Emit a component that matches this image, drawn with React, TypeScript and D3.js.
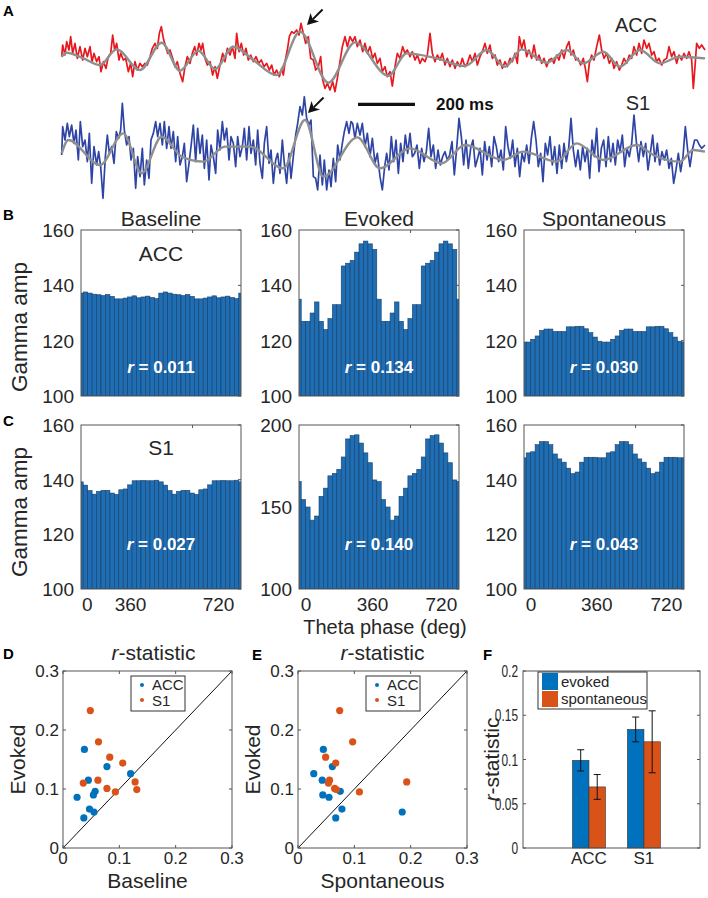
import * as React from "react"
import * as d3 from "d3"

type Pt = [number, number]

// ---------- A: example traces, [sample, µV]; 171 samples = 200 ms ----------
const accRaw: Pt[] = [
  [185, 5], [188, 40], [195, 10], [200, 50], [207, 25], [212, 65], [218, 15], [225, 45], [232, 0], [240, 35],
  [248, -5], [255, 30], [262, 5], [270, 35], [276, -10], [282, 15], [290, -10], [297, 5], [303, -40], [310, -10],
  [318, -30], [325, 5], [332, 15], [338, 70], [344, 25], [350, 45], [357, -5], [362, 15], [370, -5], [377, 0],
  [385, -40], [392, -15], [398, -55], [405, -10], [412, -35], [420, -15], [427, -25], [435, -15], [442, -20], [450, 5],
  [457, 30], [465, 45], [472, 30], [478, 75], [484, 95], [490, 60], [497, 35], [503, 15], [510, 25], [518, 0],
  [525, -25], [532, -10], [540, -45], [548, -70], [555, -25], [562, 5], [570, -15], [577, 15], [584, 35], [590, 10],
  [597, 45], [603, 25], [608, 45], [615, 0], [622, -20], [630, -10], [638, -50], [645, -25], [652, -60], [660, -20],
  [668, 15], [675, -10], [682, 30], [690, 10], [697, 35], [705, 0], [710, 75], [717, 20], [724, 45], [731, 10],
  [738, 30], [745, -5], [752, 10], [760, -10], [768, 5], [776, -15], [784, -5], [792, -25], [800, -15], [808, -35],
  [815, -20], [822, -50], [830, -35], [838, -55], [845, -30], [850, -50], [856, -5], [862, 25], [868, 65], [875, 80],
  [882, 75], [890, 85], [897, 70], [903, 105], [910, 75], [917, 45], [925, 65], [932, 0], [940, -5], [947, -35],
  [955, -25], [962, 5], [968, -65], [975, -90], [982, -75], [990, -95], [998, -70], [1005, -100], [1012, -60], [1020, -10],
  [1027, 35], [1035, 65], [1042, 35], [1050, 65], [1058, 50], [1065, 65], [1072, 35], [1080, 55], [1088, 20], [1095, 45],
  [1102, 15], [1110, 35], [1118, 0], [1125, 15], [1132, -15], [1140, 0], [1147, -40], [1155, -25], [1162, -55], [1170, -40],
  [1177, -83], [1185, -25], [1192, 15], [1200, 0], [1208, 35], [1215, 15], [1222, 25], [1230, 5], [1237, 20], [1245, -5],
  [1252, 10], [1260, -15], [1267, 0], [1275, -10], [1282, 10], [1290, 75], [1297, 15], [1305, -10], [1312, 10], [1320, -5],
  [1327, 15], [1335, -20], [1342, 0], [1350, -25], [1357, -5], [1365, -30], [1372, -10], [1380, -25], [1387, 0], [1395, -25],
  [1402, -15], [1410, 10], [1417, -10], [1425, 15], [1432, -20], [1440, 5], [1447, 20], [1455, 45], [1462, 15], [1470, 40],
  [1477, 0], [1485, 10], [1492, -20], [1500, -5], [1507, -30], [1515, -10], [1522, -25], [1530, 0], [1537, -10], [1545, 15],
  [1552, -15], [1558, 65], [1565, 30], [1572, 55], [1580, 5], [1587, 25], [1595, 0], [1602, 40], [1610, -5], [1617, 10],
  [1625, -15], [1632, 0], [1640, -25], [1647, -5], [1655, 0], [1662, -15], [1670, 10], [1677, -5], [1685, 25], [1692, 0],
  [1700, 35], [1707, 50], [1713, 10], [1720, 25], [1727, -5], [1734, 0], [1742, -20], [1750, 0], [1756, -30], [1762, -70],
  [1768, -15], [1775, 10], [1782, -5], [1790, 35], [1798, 70], [1805, 25], [1812, 0], [1820, 15], [1828, -15], [1835, 0],
  [1842, -30], [1850, -10], [1858, -35], [1865, -20], [1872, 0], [1880, -15], [1888, 10], [1895, 0], [1902, 35], [1910, 10],
  [1917, 45], [1925, 15], [1932, 55], [1940, 30], [1947, 45], [1955, 10], [1962, 20], [1970, -10], [1977, 0], [1985, -20],
  [1992, -5], [2000, 0], [2007, 35], [2015, 5], [2022, 20], [2030, -15], [2037, 10], [2045, -5], [2052, 15], [2060, 0],
  [2067, 20], [2075, -5], [2080, -90], [2085, -25], [2090, 45], [2098, 30], [2105, 40], [2115, 25],
]

const accTheta: Pt[] = [
  [185, 5], [200, 17], [250, 0], [300, -20], [350, 27], [420, -35], [485, 47], [540, -37], [595, 23], [645, -32],
  [700, 35], [760, -5], [830, -50], [900, 80], [985, -73], [1065, 48], [1165, -52], [1220, 15], [1310, 0], [1395, -23],
  [1460, 25], [1515, -25], [1565, 27], [1640, -13], [1700, 25], [1750, -15], [1810, 20], [1860, -25], [1920, 25], [1980, -15],
  [2040, 5], [2115, 0],
]

const s1Raw: Pt[] = [
  [185, -15], [188, 70], [195, 30], [202, 80], [208, 40], [215, 75], [222, 20], [228, 60], [235, -30], [241, 85],
  [248, 10], [255, 30], [262, -35], [268, 50], [275, -100], [282, 10], [290, -45], [296, -5], [302, -50], [309, -145],
  [316, -20], [322, 45], [328, -10], [335, 10], [342, -40], [349, 55], [356, 35], [362, 60], [367, 140], [373, 60],
  [380, 15], [387, 40], [393, -30], [400, 5], [407, -115], [413, -20], [420, -80], [427, 5], [433, -105], [440, -30],
  [447, -85], [453, 30], [460, 50], [467, 85], [473, 40], [480, 80], [487, 15], [493, 85], [500, 5], [507, 70],
  [513, 5], [520, 55], [527, -35], [533, 40], [540, -45], [547, -20], [553, 20], [560, -95], [567, -40], [573, 10],
  [580, 75], [587, -35], [593, 65], [600, -10], [607, 45], [613, -55], [620, 30], [627, -90], [633, 15], [640, -20],
  [647, -70], [653, 60], [660, 0], [667, 85], [673, 30], [680, 65], [687, -30], [693, 40], [700, 20], [707, -50],
  [713, 40], [720, -20], [727, 10], [733, 65], [740, -30], [747, 70], [753, -10], [760, 30], [767, -45], [773, 60],
  [780, -40], [787, -85], [793, 20], [800, 70], [807, -40], [813, 0], [820, -100], [827, -30], [833, -10], [840, -70],
  [847, 30], [853, -40], [860, -100], [867, -10], [873, -85], [880, -20], [887, 45], [893, 80], [900, 130], [907, 105],
  [913, 160], [920, 95], [927, 75], [933, 90], [940, -80], [947, -85], [953, -120], [960, -15], [967, -105], [973, -30],
  [980, -120], [987, -60], [993, -110], [1000, -25], [1007, -95], [1013, 15], [1020, -30], [1027, 20], [1033, 55], [1040, 85],
  [1047, 50], [1053, 85], [1058, 80], [1065, 35], [1072, 80], [1080, 45], [1087, 80], [1095, 10], [1102, 50], [1110, -20],
  [1117, 35], [1125, -40], [1132, -10], [1140, -80], [1147, -120], [1154, -50], [1160, -10], [1167, -60], [1174, 40], [1181, -35],
  [1188, 30], [1195, -70], [1202, 20], [1209, -35], [1216, 45], [1223, -10], [1230, 50], [1237, -20], [1244, -10], [1251, 15],
  [1258, -55], [1265, 5], [1272, -35], [1279, -5], [1286, 65], [1293, -20], [1300, 15], [1307, -55], [1314, 0], [1321, -45],
  [1328, -20], [1335, -5], [1342, -30], [1349, -15], [1356, 25], [1363, -75], [1370, 5], [1377, 95], [1384, 40], [1391, -45],
  [1398, 30], [1405, -55], [1412, 5], [1419, 30], [1426, -50], [1433, -25], [1440, 5], [1447, -75], [1454, 25], [1461, -30],
  [1468, 10], [1475, -50], [1482, 40], [1489, 10], [1496, -35], [1503, 0], [1510, -60], [1517, 70], [1524, 10], [1531, -25],
  [1538, 30], [1545, -50], [1552, 5], [1559, -80], [1566, -10], [1573, -35], [1580, 15], [1587, -40], [1594, 35], [1601, 85],
  [1608, 30], [1615, -50], [1622, -10], [1629, -95], [1636, 20], [1643, -15], [1650, 40], [1657, -45], [1664, 10], [1671, -70],
  [1678, 15], [1685, -55], [1692, 20], [1699, -35], [1706, 5], [1713, 95], [1720, 0], [1727, -50], [1734, 0], [1741, -60],
  [1748, 10], [1755, -35], [1762, 5], [1769, -85], [1776, 30], [1783, -20], [1790, 65], [1797, -65], [1804, 5], [1811, 30],
  [1818, -50], [1825, 40], [1832, -35], [1839, 20], [1846, -45], [1853, 30], [1860, -5], [1867, 45], [1874, -50], [1881, 5],
  [1888, -20], [1895, 20], [1902, 105], [1909, 25], [1916, -35], [1923, 25], [1930, -20], [1937, 20], [1944, -60], [1951, -10],
  [1958, 45], [1965, -35], [1972, 20], [1979, -45], [1986, -5], [1993, -30], [2000, 0], [2007, -55], [2014, -25], [2021, -100],
  [2028, -60], [2035, -10], [2042, -65], [2049, -20], [2056, 70], [2063, 0], [2070, -50], [2077, 0], [2084, 30], [2091, 30],
  [2098, 15], [2105, 5], [2115, 15],
]

const s1Theta: Pt[] = [
  [185, -10], [205, 30], [300, -45], [370, 50], [425, -70], [485, 40], [545, -20], [610, -35], [675, 10], [750, 10],
  [850, -55], [915, 90], [970, -80], [1072, 38], [1140, -55], [1230, 5], [1325, -40], [1395, 15], [1510, -30], [1570, -5],
  [1670, -35], [1730, 20], [1810, -30], [1910, 15], [1960, -15], [2040, -35], [2080, 0], [2115, -5],
]

const arrowTips: Pt[] = [[921, 100], [924, 111]]
const scaleBarStart = 1074
const scaleBarMs = 200
const samplesPerMs = 171 / 200

// ---------- B, C: gamma amplitude per 20-deg theta bin (one cycle, shown twice) ----------
const phaseCenters = d3.range(0, 740, 20)
const phaseTicks = [0, 360, 720]
const accBaseline = [137.2, 137.6, 137.2, 136.8, 136.6, 136.3, 136.7, 136.0, 135.1, 135.1, 135.4, 135.8, 136.2, 135.5, 135.8, 136.1, 135.6, 135.2]
const accEvoked = [135, 127, 127, 130, 134, 127, 124, 128, 133, 133, 147, 148, 149, 152, 155, 156, 155, 153]
const accSpont = [119.5, 119.5, 120.5, 121.7, 123.7, 124.2, 124.2, 123.3, 123.3, 123.3, 125.0, 125.0, 125.2, 125.2, 124.3, 122.9, 121.3, 119.8]
const s1Baseline = [139.2, 138.0, 136.0, 134.7, 135.7, 136.1, 136.1, 135.1, 134.6, 136.3, 136.6, 138.1, 139.6, 139.6, 139.7, 139.6, 139.6, 139.8]
const s1Evoked = [165.5, 154.5, 150.0, 142.0, 144.5, 156.5, 161.5, 169.0, 170.5, 173.0, 180.5, 191.5, 193.5, 194.0, 189.0, 183.0, 177.0, 166.5]
const s1Spont = [148.0, 149.8, 150.2, 152.8, 153.9, 153.9, 152.8, 149.4, 147.6, 146.4, 144.2, 142.2, 142.8, 146.4, 148.2, 148.2, 148.2, 148.0]
const rValues = ["0.011", "0.134", "0.030", "0.027", "0.140", "0.043"]
const conditionTitles = ["Baseline", "Evoked", "Spontaneous"]

// ---------- D, E: per-session r-statistic ----------
const accEvokedR = [0.167, 0.138, 0.126, 0.115, 0.096, 0.090, 0.086, 0.066, 0.061, 0.051]
const accBaselineR = [0.038, 0.078, 0.120, 0.045, 0.057, 0.054, 0.025, 0.047, 0.055, 0.037]
const accSpontR = [0.045, 0.061, 0.028, 0.043, 0.075, 0.044, 0.055, 0.078, 0.185, 0.067]
const s1EvokedR = [0.233, 0.180, 0.154, 0.144, 0.115, 0.112, 0.110, 0.101, 0.099, 0.095]
const s1BaselineR = [0.0485, 0.063, 0.083, 0.106, 0.062, 0.128, 0.036, 0.078, 0.131, 0.093]
const s1SpontR = [0.074, 0.097, 0.049, 0.067, 0.056, 0.193, 0.054, 0.065, 0.068, 0.109]
const rTicks = [0, 0.1, 0.2, 0.3]

// ---------- F: mean r-statistic ----------
const regions = ["ACC", "S1"]
const evokedMean = [0.099, 0.134]
const evokedErr = [0.012, 0.014]
const spontMean = [0.069, 0.120]
const spontErr = [0.014, 0.035]
const fTicks = [0, 0.05, 0.1, 0.15, 0.2]

const FONT = "'Liberation Sans', Arial, Helvetica, sans-serif"
const TEXT = "#262626"
const AXIS = "#555"
const BLUE = "#0072BD"
const ORANGE = "#D95319"
const HIST_FILL = "#1f6db3"
const HIST_EDGE = "#17406a"

const tScale = d3.scaleLinear().domain([0, 2124]).range([0, 708])

function TracePanel() {
  const accY = d3.scaleLinear().domain([-100, 100]).range([91.7, 25])
  const s1Y = d3.scaleLinear().domain([-100, 100]).range([183.3, 116.7])
  const mk = (ys: d3.ScaleLinear<number, number>, smooth: boolean) =>
    d3.line<Pt>().x(d => tScale(d[0])).y(d => ys(d[1])).curve(smooth ? d3.curveMonotoneX : d3.curveLinear)
  const arrow = (tip: Pt, ys: d3.ScaleLinear<number, number>) => {
    const tx = tScale(tip[0]), ty = ys(tip[1])
    const ux = Math.SQRT1_2, uy = -Math.SQRT1_2
    const px = -uy, py = ux
    const hl = 11, hw = 6
    const bx = tx + ux * hl, by = ty + uy * hl
    const nx = tx + ux * (hl - 3), ny = ty + uy * (hl - 3)
    return (
      <g>
        <line x1={nx} y1={ny} x2={tx + ux * 22} y2={ty + uy * 22} stroke="#111" strokeWidth={2} />
        <path d={`M${tx},${ty}L${bx + px * hw},${by + py * hw}L${nx},${ny}L${bx - px * hw},${by - py * hw}Z`} fill="#111" />
      </g>
    )
  }
  const barX0 = tScale(scaleBarStart)
  const barX1 = tScale(scaleBarStart + scaleBarMs * samplesPerMs)
  return (
    <g>
      <path d={mk(accY, false)(accRaw) || ""} fill="none" stroke="#e8191e" strokeWidth={1.7} strokeLinejoin="round" />
      <path d={mk(accY, true)(accTheta) || ""} fill="none" stroke="#8f8f8f" strokeWidth={2.4} />
      <path d={mk(s1Y, false)(s1Raw) || ""} fill="none" stroke="#2f45a5" strokeWidth={1.7} strokeLinejoin="round" />
      <path d={mk(s1Y, true)(s1Theta) || ""} fill="none" stroke="#8f8f8f" strokeWidth={2.4} />
      {arrow(arrowTips[0], accY)}
      {arrow(arrowTips[1], s1Y)}
      <line x1={barX0} x2={barX1} y1={104.3} y2={104.3} stroke="#111" strokeWidth={3.3} />
      <text x={436} y={110} fontSize={17} fontWeight="bold" fill="#111">200 ms</text>
      <text x={636} y={32} fontSize={20} textAnchor="middle" fill={TEXT}>ACC</text>
      <text x={638} y={110} fontSize={20} textAnchor="middle" fill={TEXT}>S1</text>
    </g>
  )
}

type HistProps = {
  left: number; top: number; width: number; height: number
  cycle: number[]; yDomain: [number, number]; yTicks: number[]
  r: string; rFrac: number; labelPos: number[] | null
}

function Histogram({ left, top, width, height, cycle, yDomain, yTicks, r, rFrac, labelPos }: HistProps) {
  const x = d3.scaleLinear().domain([0, 720]).range([left, left + width])
  const y = d3.scaleLinear().domain(yDomain).range([top + height, top])
  const bw = x(20) - x(0)
  const id = `clip-${Math.round(left)}-${Math.round(top)}`
  // tick labels sit where the published figure placed them
  const lab = labelPos
    ? d3.scaleLinear().domain(phaseTicks).range(labelPos.map(f => left + f * width))
    : null
  return (
    <g>
      <defs>
        <clipPath id={id}><rect x={left} y={top} width={width} height={height} /></clipPath>
      </defs>
      <g clipPath={`url(#${id})`}>
        {phaseCenters.map((p, i) => {
          const v = cycle[i % cycle.length]
          return (
            <rect key={i} x={x(p) - bw / 2} y={y(v)} width={bw} height={y(yDomain[0]) - y(v)}
              fill={HIST_FILL} stroke={HIST_EDGE} strokeWidth={0.6} />
          )
        })}
      </g>
      <rect x={left} y={top} width={width} height={height} fill="none" stroke={AXIS} strokeWidth={1} />
      <line x1={x(502)} x2={x(502)} y1={top} y2={top + 3} stroke={AXIS} />
      {yTicks.map(t => (
        <g key={t}>
          <line x1={left + width} x2={left + width - 3} y1={y(t)} y2={y(t)} stroke={AXIS} />
          <text x={left - 7} y={y(t)} dy="0.36em" textAnchor="end" fontSize={19} fill={TEXT}>{t}</text>
        </g>
      ))}
      <text x={left + width / 2} y={top + height * (1 - rFrac)} dy="0.36em" textAnchor="middle"
        fontSize={17} fontWeight="bold" fill="#fff">
        <tspan fontStyle="italic">r</tspan> = {r}
      </text>
      {lab && phaseTicks.map(t => (
        <text key={t} x={lab(t)} y={611} textAnchor="middle" fontSize={19} fill={TEXT}>{t}</text>
      ))}
    </g>
  )
}

type ScatterProps = {
  left: number; top: number; width: number; height: number
  accX: number[]; accY: number[]; s1X: number[]; s1Y: number[]; xLabel: string; titleShift: number
}

function Scatter({ left, top, width, height, accX, accY, s1X, s1Y, xLabel, titleShift }: ScatterProps) {
  const x = d3.scaleLinear().domain([0, 0.3]).range([left, left + width])
  const y = d3.scaleLinear().domain([0, 0.3]).range([top + height, top])
  const fmt = (d: number) => (d === 0 ? "0" : d3.format(".1f")(d))
  return (
    <g>
      <line x1={x(0)} y1={y(0)} x2={x(0.3)} y2={y(0.3)} stroke="#111" strokeWidth={1} />
      {accX.map((v, i) => <circle key={"a" + i} cx={x(v)} cy={y(accY[i])} r={3.6} fill={BLUE} />)}
      {s1X.map((v, i) => <circle key={"s" + i} cx={x(v)} cy={y(s1Y[i])} r={3.6} fill={ORANGE} />)}
      <rect x={left} y={top} width={width} height={height} fill="none" stroke={AXIS} strokeWidth={1} />
      {rTicks.map(t => (
        <g key={t}>
          <line x1={left} x2={left + 3} y1={y(t)} y2={y(t)} stroke={AXIS} />
          <line x1={left + width} x2={left + width - 3} y1={y(t)} y2={y(t)} stroke={AXIS} />
          <line x1={x(t)} x2={x(t)} y1={top} y2={top + 3} stroke={AXIS} />
          <line x1={x(t)} x2={x(t)} y1={top + height} y2={top + height - 3} stroke={AXIS} />
          <text x={left - 4} y={y(t)} dy="0.36em" textAnchor="end" fontSize={17} fill={TEXT}>{fmt(t)}</text>
          <text x={x(t)} y={864} textAnchor="middle" fontSize={17} fill={TEXT}>{fmt(t)}</text>
        </g>
      ))}
      <rect x={left + 68} y={top + 5} width={54} height={35} fill="#fff" stroke="#333" strokeWidth={1} />
      <circle cx={left + 79} cy={top + 14} r={2} fill={BLUE} />
      <circle cx={left + 79} cy={top + 29} r={2} fill={ORANGE} />
      <text x={left + 89} y={top + 19} fontSize={15} fill={TEXT}>ACC</text>
      <text x={left + 89} y={top + 35} fontSize={15} fill={TEXT}>S1</text>
      <text x={left + width / 2 + titleShift} y={660} textAnchor="middle" fontSize={21} fill={TEXT}>
        <tspan fontStyle="italic">r</tspan>-statistic
      </text>
      <text x={left + width / 2} y={888} textAnchor="middle" fontSize={21} fill={TEXT}>{xLabel}</text>
      <text transform={`translate(${left - 38},${top + height / 2}) rotate(-90)`} textAnchor="middle" fontSize={21} fill={TEXT}>Evoked</text>
    </g>
  )
}

function BarPanel({ left, top, width, height }: { left: number; top: number; width: number; height: number }) {
  const x = d3.scaleLinear().domain([-0.2, 3.02]).range([left, left + width])
  const y = d3.scaleLinear().domain([0, 0.2]).range([top + height, top])
  const bw = x(0.3) - x(0)
  const capW = 3.5
  const series = [
    { mean: evokedMean, err: evokedErr, color: BLUE, off: -1 },
    { mean: spontMean, err: spontErr, color: ORANGE, off: 0 },
  ]
  return (
    <g>
      {series.map((s, si) => regions.map((_, i) => {
        const cx = x(i + 1) + s.off * bw
        const m = s.mean[i], e = s.err[i]
        const mid = cx + bw / 2
        return (
          <g key={si + "-" + i}>
            <rect x={cx} y={y(m)} width={bw} height={y(0) - y(m)} fill={s.color} stroke="#333" strokeWidth={0.6} />
            <line x1={mid} x2={mid} y1={y(m - e)} y2={y(m + e)} stroke="#111" strokeWidth={1} />
            <line x1={mid - capW} x2={mid + capW} y1={y(m - e)} y2={y(m - e)} stroke="#111" strokeWidth={1} />
            <line x1={mid - capW} x2={mid + capW} y1={y(m + e)} y2={y(m + e)} stroke="#111" strokeWidth={1} />
          </g>
        )
      }))}
      <rect x={left} y={top} width={width} height={height} fill="none" stroke={AXIS} strokeWidth={1} />
      {fTicks.map(t => (
        <g key={t}>
          <line x1={left} x2={left + 3} y1={y(t)} y2={y(t)} stroke={AXIS} />
          <line x1={left + width} x2={left + width - 3} y1={y(t)} y2={y(t)} stroke={AXIS} />
          <g transform={`translate(${left - 5},${y(t)}) scale(0.7,1)`}>
            <text x={0} y={0} dy="0.36em" textAnchor="end" fontSize={17} fill={TEXT}>{String(t)}</text>
          </g>
        </g>
      ))}
      {regions.map((r, i) => (
        <text key={r} x={x(i + 1)} y={864} textAnchor="middle" fontSize={17} fill={TEXT}>{r}</text>
      ))}
      <rect x={left + 15} y={top + 1} width={109} height={37} fill="#fff" stroke="#333" strokeWidth={1} />
      <rect x={left + 19} y={top + 2} width={16} height={17} fill={BLUE} />
      <rect x={left + 19} y={top + 20} width={16} height={16} fill={ORANGE} />
      <text x={left + 38} y={top + 16} fontSize={15} fill={TEXT}>evoked</text>
      <text x={left + 38} y={top + 33} fontSize={15} fill={TEXT}>spontaneous</text>
      <text transform={`translate(${left - 24},${top + height / 2}) rotate(-90)`} textAnchor="middle" fontSize={21} fill={TEXT}>
        <tspan fontStyle="italic">r</tspan>-statistic
      </text>
    </g>
  )
}

const colLefts = [81, 299, 524]
const histWidth = 160
const phaseLabelPos = [[0.04, 0.31, 0.86], [0.044, 0.46, 0.89], [0.044, 0.455, 0.89]]

export default function App() {
  const rows = [
    { top: 230, height: 166, cycles: [accBaseline, accEvoked, accSpont], domains: [[100, 160], [100, 160], [100, 160]], ticks: [[100, 120, 140, 160], [100, 120, 140, 160], [100, 120, 140, 160]], rFrac: 0.175, phase: false },
    { top: 425, height: 164, cycles: [s1Baseline, s1Evoked, s1Spont], domains: [[100, 160], [100, 200], [100, 160]], ticks: [[100, 120, 140, 160], [100, 150, 200], [100, 120, 140, 160]], rFrac: 0.275, phase: true },
  ]
  return (
    <div style={{ position: "absolute", left: 0, top: 0 }}>
      <svg width={708} height={898} viewBox="0 0 708 898" style={{ display: "block", background: "#fff", fontFamily: FONT }}>
        <TracePanel />
        {rows.map((row, ri) => colLefts.map((left, ci) => (
          <Histogram key={ri + "-" + ci} left={left} top={row.top} width={histWidth} height={row.height}
            cycle={row.cycles[ci]} yDomain={row.domains[ci] as [number, number]} yTicks={row.ticks[ci]}
            r={rValues[ri * 3 + ci]} rFrac={row.rFrac} labelPos={row.phase ? phaseLabelPos[ci] : null} />
        )))}
        {conditionTitles.map((t, i) => (
          <text key={t} x={colLefts[i] + histWidth / 2} y={226} textAnchor="middle" fontSize={21} fill={TEXT}>{t}</text>
        ))}
        <text x={161} y={261} textAnchor="middle" fontSize={21} fill={TEXT}>ACC</text>
        <text x={161} y={455} textAnchor="middle" fontSize={21} fill={TEXT}>S1</text>
        <text transform="translate(27,327) rotate(-90)" textAnchor="middle" fontSize={22.5} fill={TEXT}>Gamma amp</text>
        <text transform="translate(27,512) rotate(-90)" textAnchor="middle" fontSize={22.5} fill={TEXT}>Gamma amp</text>
        <text x={385} y={634} textAnchor="middle" fontSize={20} fill={TEXT}>Theta phase (deg)</text>
        <Scatter left={63} top={671} width={169} height={177} accX={accBaselineR} accY={accEvokedR}
          s1X={s1BaselineR} s1Y={s1EvokedR} xLabel="Baseline" titleShift={6} />
        <Scatter left={298} top={671} width={169} height={177} accX={accSpontR} accY={accEvokedR}
          s1X={s1SpontR} s1Y={s1EvokedR} xLabel="Spontaneous" titleShift={0} />
        <BarPanel left={523} top={671} width={177} height={177} />
        {[["A", 3, 16], ["B", 3, 220], ["C", 3, 426], ["D", 3, 659], ["E", 252, 660], ["F", 483, 660]].map(([l, x, y]) => (
          <text key={l as string} x={x as number} y={y as number} fontSize={15} fontWeight="bold" fill="#000">{l}</text>
        ))}
      </svg>
    </div>
  )
}
